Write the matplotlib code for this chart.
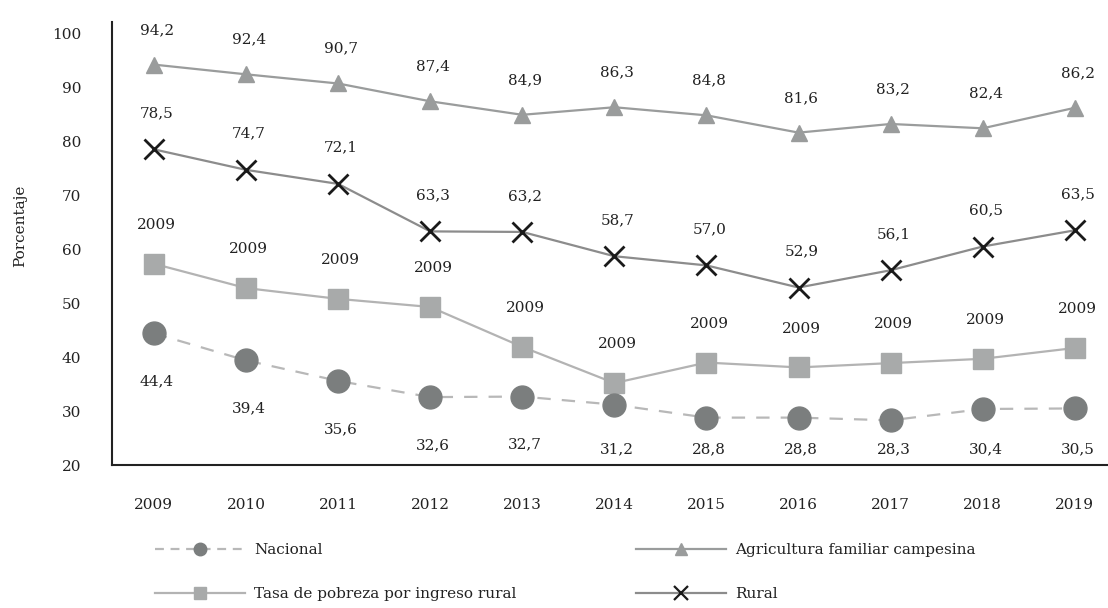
import matplotlib
matplotlib.use("Agg")
import matplotlib.pyplot as plt
from matplotlib.lines import Line2D

plt.rcParams["font.family"] = ["DejaVu Serif"]

years = [2009, 2010, 2011, 2012, 2013, 2014, 2015, 2016, 2017, 2018, 2019]
nacional = [44.4, 39.4, 35.6, 32.6, 32.7, 31.2, 28.8, 28.8, 28.3, 30.4, 30.5]
agricultura = [94.2, 92.4, 90.7, 87.4, 84.9, 86.3, 84.8, 81.6, 83.2, 82.4, 86.2]
rural = [78.5, 74.7, 72.1, 63.3, 63.2, 58.7, 57.0, 52.9, 56.1, 60.5, 63.5]
# values for this series are not labelled in the source (every label reads "2009")
tasa = [57.3, 52.8, 50.8, 49.3, 41.9, 35.2, 39.0, 38.1, 38.9, 39.7, 41.7]
tasa_labels = ["2009"] * len(years)


def fmt(v):
    return f"{v:.1f}".replace(".", ",")


fig = plt.figure(figsize=(11.08, 6.08), dpi=100)
ax = fig.add_axes([0.101, 0.235, 0.899, 0.728])
x = list(range(len(years)))
ymin, ymax = 20, 102

c_agri = "#9a9c9c"
c_rural_line = "#8c8c8c"
c_tasa = "#a8aaaa"
c_nac = "#7b7e7e"

ax.plot(x, agricultura, color=c_agri, lw=1.6, marker="^", ms=11,
        markerfacecolor=c_agri, markeredgecolor=c_agri, zorder=3)
ax.plot(x, rural, color=c_rural_line, lw=1.6, marker="x", ms=14,
        markeredgecolor="#1a1a1a", markeredgewidth=2, zorder=3)
ax.plot(x, tasa, color="#b3b3b3", lw=1.6, marker="s", ms=14,
        markerfacecolor=c_tasa, markeredgecolor=c_tasa, zorder=3)
ax.plot(x, nacional, color="#b8b8b8", lw=1.6, ls=(0, (6, 5)), marker="o", ms=16.5,
        markerfacecolor=c_nac, markeredgecolor=c_nac, zorder=3)

# labels below the points are kept inside the plot area, like Excel does
px_per_unit = 0.728 * 608 / (ymax - ymin)

lab_kw = dict(textcoords="offset points", ha="center", va="center",
              fontsize=11, color="#222222")
for i in x:
    ax.annotate(fmt(agricultura[i]), (i, agricultura[i]), xytext=(2, 25), **lab_kw)
    ax.annotate(fmt(rural[i]), (i, rural[i]), xytext=(2, 26), **lab_kw)
    ax.annotate(tasa_labels[i], (i, tasa[i]), xytext=(2, 28), **lab_kw)
    below = min(48, (nacional[i] - ymin) * px_per_unit - 16) * 0.72
    ax.annotate(fmt(nacional[i]), (i, nacional[i]), xytext=(2, -below), **lab_kw)

ax.set_xlim(-0.456, 10.36)
ax.set_ylim(ymin, ymax)
ax.set_yticks(range(20, 101, 10))
ax.set_xticks(x)
ax.set_xticklabels([str(y) for y in years])
ax.tick_params(axis="both", length=0, labelsize=11, colors="#222222")
ax.tick_params(axis="y", pad=22)
ax.tick_params(axis="x", pad=24)
for s in ["top", "right"]:
    ax.spines[s].set_visible(False)
for s in ["left", "bottom"]:
    ax.spines[s].set_color("#222222")
    ax.spines[s].set_linewidth(1.5)
ax.set_ylabel("Porcentaje", fontsize=11, color="#222222")
ax.yaxis.set_label_coords(-0.085, 0.54)

handles = [
    Line2D([], [], color="#b8b8b8", lw=1.6, ls=(0, (4, 3)), marker="o", ms=9,
           markerfacecolor=c_nac, markeredgecolor=c_nac),
    Line2D([], [], color="#b3b3b3", lw=1.6, marker="s", ms=8,
           markerfacecolor=c_tasa, markeredgecolor=c_tasa),
    Line2D([], [], color=c_agri, lw=1.6, marker="^", ms=9,
           markerfacecolor=c_agri, markeredgecolor=c_agri),
    Line2D([], [], color=c_rural_line, lw=1.6, marker="x", ms=10,
           markeredgecolor="#1a1a1a", markeredgewidth=1.6),
]
labels = ["Nacional", "Tasa de pobreza por ingreso rural",
          "Agricultura familiar campesina", "Rural"]
fig.legend(handles, labels, loc="upper left", bbox_to_anchor=(0.14, 0.107),
           ncol=2, frameon=False, fontsize=11, handlelength=5.9,
           handletextpad=0.6, columnspacing=7.8, labelspacing=1.98,
           borderpad=0, borderaxespad=0, labelcolor="#222222")

fig.savefig("out.png", dpi=100)
